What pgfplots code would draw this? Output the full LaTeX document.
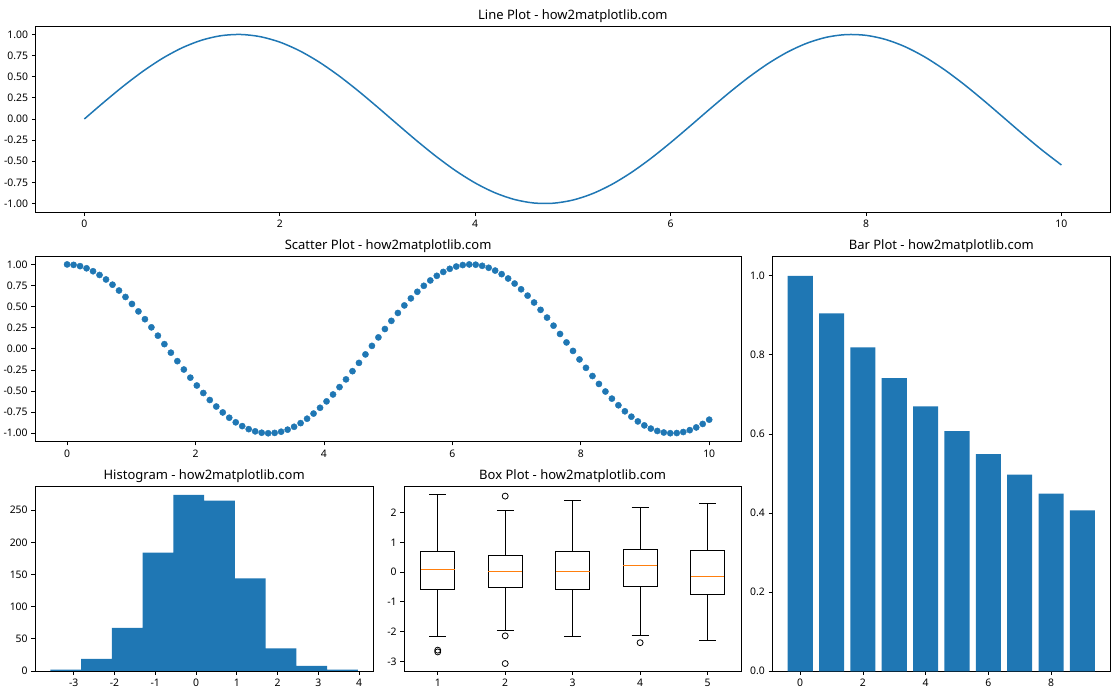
\documentclass[border=0pt]{standalone}
\usepackage{fontspec}
\setmainfont{Noto Sans}
\usepackage{pgfplots}
\pgfplotsset{compat=1.18}
\usepgfplotslibrary{statistics}
\definecolor{C0}{HTML}{1F77B4}
\definecolor{C1}{HTML}{FF7F0E}
\pgfplotsset{
  mpl/.style={
    scale only axis,
    anchor=south west,
    axis line style={line width=0.8pt, black},
    tick align=outside,
    xtick pos=bottom, ytick pos=left,
    major tick length=3.6pt,
    every tick/.style={line width=0.8pt, black},
    /pgf/number format/assume math mode=true,
    ticklabel style={font=\fontsize{10.4}{12}\selectfont},
    xticklabel style={inner sep=0pt, yshift=-4.2pt},
    yticklabel style={inner sep=0pt, xshift=-3.6pt},
    title style={at={(0.5,1)}, anchor=south, yshift=-3pt, inner sep=0pt, font=\fontsize{13}{15}\selectfont},
    clip=false,
  }
}
\begin{document}
\begin{tikzpicture}
\path[use as bounding box] (0pt,0pt) rectangle (1120pt,700pt);

% Line plot
\begin{axis}[mpl, at={(35.5pt,488pt)}, width=1074.8pt, height=186pt,
  title={Line Plot - how2matplotlib.com},
  xmin=-0.5, xmax=10.5, ymin=-1.1, ymax=1.1,
  xtick={0,2,4,6,8,10},
  ytick={-1,-0.75,-0.5,-0.25,0,0.25,0.5,0.75,1},
  yticklabel style={/pgf/number format/.cd, fixed, fixed zerofill, precision=2},
]
\addplot[C0, line width=1.5pt, no marks, line join=round, smooth] coordinates {
(0,0) (0.2,0.1987) (0.4,0.3894) (0.6,0.5646) (0.8,0.7174) (1.0,0.8415)
(1.2,0.9320) (1.4,0.9854) (1.6,0.9996) (1.8,0.9738) (2.0,0.9093)
(2.2,0.8085) (2.4,0.6755) (2.6,0.5155) (2.8,0.3350) (3.0,0.1411)
(3.2,-0.0584) (3.4,-0.2555) (3.6,-0.4425) (3.8,-0.6119) (4.0,-0.7568)
(4.2,-0.8716) (4.4,-0.9516) (4.6,-0.9937) (4.8,-0.9962) (5.0,-0.9589)
(5.2,-0.8835) (5.4,-0.7728) (5.6,-0.6313) (5.8,-0.4646) (6.0,-0.2794)
(6.2,-0.0831) (6.4,0.1165) (6.6,0.3115) (6.8,0.4941) (7.0,0.6570)
(7.2,0.7937) (7.4,0.8987) (7.6,0.9679) (7.8,0.9985) (8.0,0.9894)
(8.2,0.9407) (8.4,0.8546) (8.6,0.7344) (8.8,0.5849) (9.0,0.4121)
(9.2,0.2229) (9.4,0.0248) (9.6,-0.1743) (9.8,-0.3665) (10.0,-0.5440)
};
\end{axis}

% Scatter plot
\begin{axis}[mpl, at={(35pt,258.3pt)}, width=706.3pt, height=185.7pt,
  title={Scatter Plot - how2matplotlib.com},
  xmin=-0.5, xmax=10.5, ymin=-1.1, ymax=1.1,
  xtick={0,2,4,6,8,10},
  ytick={-1,-0.75,-0.5,-0.25,0,0.25,0.5,0.75,1},
  yticklabel style={/pgf/number format/.cd, fixed, fixed zerofill, precision=2},
]
\addplot[only marks, mark=*, mark size=3.1pt, color=C0, mark options={fill=C0, draw=C0}] coordinates {
(0.0000,1.0000) (0.1010,0.9949) (0.2020,0.9797) (0.3030,0.9544) (0.4040,0.9195)
(0.5051,0.8751) (0.6061,0.8219) (0.7071,0.7602) (0.8081,0.6908) (0.9091,0.6145)
(1.0101,0.5318) (1.1111,0.4437) (1.2121,0.3511) (1.3131,0.2549) (1.4141,0.1561)
(1.5152,0.0556) (1.6162,-0.0454) (1.7172,-0.1459) (1.8182,-0.2449) (1.9192,-0.3414)
(2.0202,-0.4344) (2.1212,-0.5231) (2.2222,-0.6063) (2.3232,-0.6834) (2.4242,-0.7535)
(2.5253,-0.8160) (2.6263,-0.8703) (2.7273,-0.9154) (2.8283,-0.9513) (2.9293,-0.9775)
(3.0303,-0.9938) (3.1313,-0.9999) (3.2323,-0.9959) (3.3333,-0.9817) (3.4343,-0.9575)
(3.5354,-0.9234) (3.6364,-0.8801) (3.7374,-0.8277) (3.8384,-0.7669) (3.9394,-0.6983)
(4.0404,-0.6225) (4.1414,-0.5405) (4.2424,-0.4533) (4.3434,-0.3618) (4.4444,-0.2648)
(4.5455,-0.1663) (4.6465,-0.0660) (4.7475,0.0351) (4.8485,0.1357) (4.9495,0.2349)
(5.0505,0.3317) (5.1515,0.4251) (5.2525,0.5142) (5.3535,0.5980) (5.4545,0.6758)
(5.5556,0.7468) (5.6566,0.8102) (5.7576,0.8650) (5.8586,0.9112) (5.9596,0.9481)
(6.0606,0.9753) (6.1616,0.9926) (6.2626,0.9998) (6.3636,0.9968) (6.4646,0.9836)
(6.5657,0.9604) (6.6667,0.9273) (6.7677,0.8849) (6.8687,0.8334) (6.9697,0.7735)
(7.0707,0.7055) (7.1717,0.6305) (7.2727,0.5491) (7.3737,0.4621) (7.4747,0.3703)
(7.5758,0.2746) (7.6768,0.1763) (7.7778,0.0761) (7.8788,-0.0248) (7.9798,-0.1255)
(8.0808,-0.2249) (8.1818,-0.3220) (8.2828,-0.4158) (8.3838,-0.5055) (8.4848,-0.5898)
(8.5859,-0.6683) (8.6869,-0.7399) (8.7879,-0.8039) (8.8889,-0.8598) (8.9899,-0.9069)
(9.0909,-0.9448) (9.1919,-0.9730) (9.2929,-0.9913) (9.3939,-0.9995) (9.4949,-0.9975)
(9.5960,-0.9854) (9.6970,-0.9632) (9.7980,-0.9312) (9.8990,-0.8897) (10.0000,-0.8391)
};
\end{axis}

% Bar plot
\begin{axis}[mpl, at={(772.3pt,28.7pt)}, width=338pt, height=415.3pt,
  title={Bar Plot - how2matplotlib.com},
  xmin=-0.89, xmax=9.89, ymin=0, ymax=1.05,
  xtick={0,2,4,6,8},
  ytick={0,0.2,0.4,0.6,0.8,1.0},
  yticklabel style={/pgf/number format/.cd, fixed, fixed zerofill, precision=1},
]
\addplot[ybar, bar width=0.8, fill=C0, draw=none] coordinates {
(0,1.000) (1,0.905) (2,0.819) (3,0.741) (4,0.670)
(5,0.607) (6,0.549) (7,0.497) (8,0.449) (9,0.407)
};
\end{axis}

% Histogram
\begin{axis}[mpl, at={(35pt,29pt)}, width=338.3pt, height=185pt,
  title={Histogram - how2matplotlib.com},
  xmin=-3.95, xmax=4.35, ymin=0, ymax=287.7,
  xtick={-3,-2,-1,0,1,2,3,4},
  ytick={0,50,100,150,200,250},
]
\addplot[ybar interval, fill=C0, draw=none] coordinates {
(-3.570,2) (-2.816,19) (-2.062,67) (-1.308,184) (-0.554,274)
(0.200,265) (0.954,144) (1.708,35) (2.462,8) (3.216,2) (3.970,0)
};
\end{axis}

% Box plot
\begin{axis}[mpl, at={(404pt,29pt)}, width=337.3pt, height=185pt,
  title={Box Plot - how2matplotlib.com},
  xmin=0.5, xmax=5.5, ymin=-3.32, ymax=2.89,
  xtick={1,2,3,4,5},
  ytick={-3,-2,-1,0,1,2},
  boxplot/draw direction=y,
  boxplot/box extend=0.5,
  boxplot/whisker extend=0.25,
  boxplot/every median/.style={draw=C1, line width=0.9pt},
]
\addplot[black, line width=0.8pt, mark=o, mark size=3pt,
  boxplot prepared={draw position=1, lower whisker=-2.16, lower quartile=-0.57,
    median=0.09, upper quartile=0.70, upper whisker=2.60}]
  coordinates {(1,-2.62) (1,-2.68)};
\addplot[black, line width=0.8pt, mark=o, mark size=3pt,
  boxplot prepared={draw position=2, lower whisker=-1.96, lower quartile=-0.52,
    median=0.02, upper quartile=0.55, upper whisker=2.06}]
  coordinates {(2,2.55) (2,-2.14) (2,-3.07)};
\addplot[black, line width=0.8pt, mark=o, mark size=3pt,
  boxplot prepared={draw position=3, lower whisker=-2.16, lower quartile=-0.57,
    median=0.02, upper quartile=0.69, upper whisker=2.40}]
  coordinates {};
\addplot[black, line width=0.8pt, mark=o, mark size=3pt,
  boxplot prepared={draw position=4, lower whisker=-2.13, lower quartile=-0.48,
    median=0.22, upper quartile=0.76, upper whisker=2.16}]
  coordinates {(4,-2.37)};
\addplot[black, line width=0.8pt, mark=o, mark size=3pt,
  boxplot prepared={draw position=5, lower whisker=-2.30, lower quartile=-0.75,
    median=-0.15, upper quartile=0.72, upper whisker=2.30}]
  coordinates {};
\end{axis}
\end{tikzpicture}
\end{document}
